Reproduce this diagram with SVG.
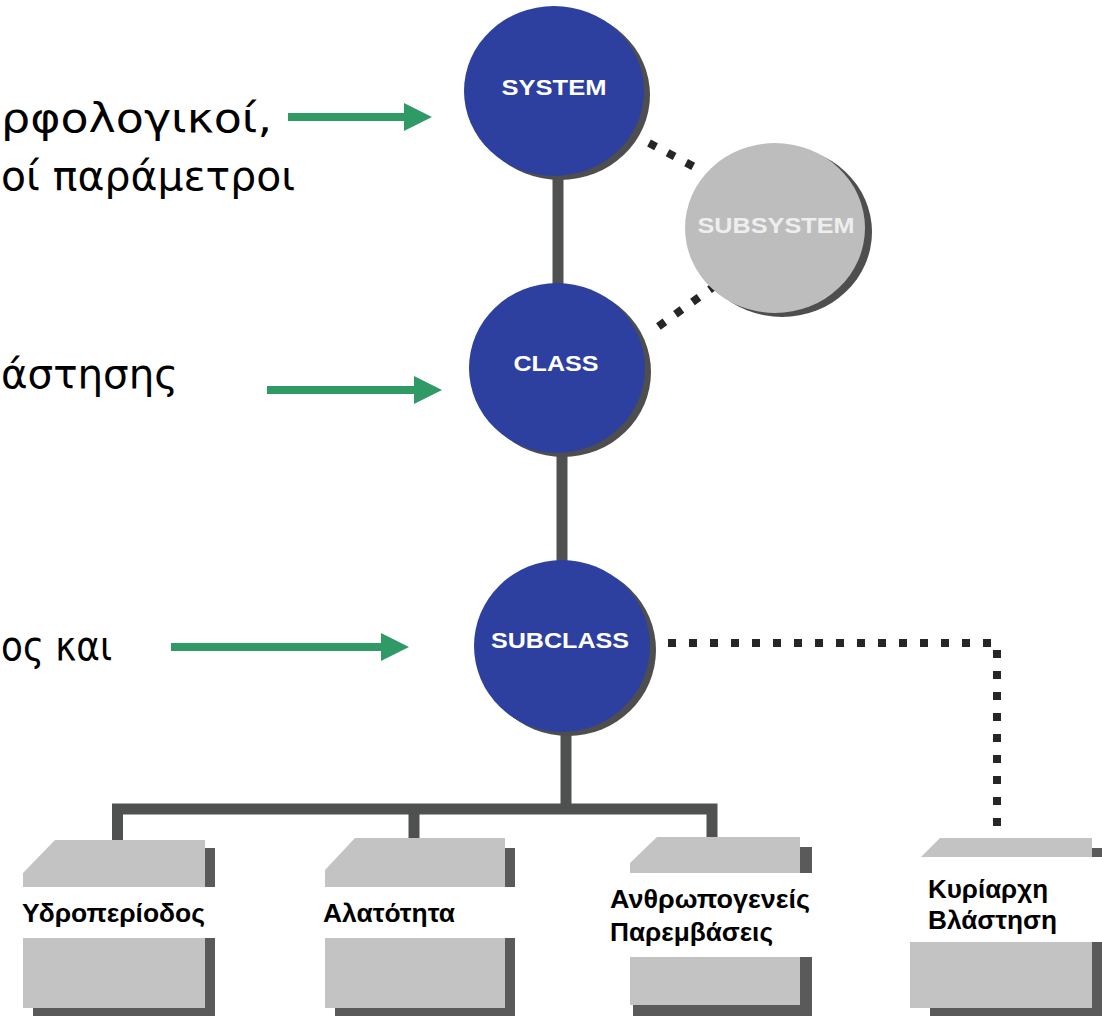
<svg xmlns="http://www.w3.org/2000/svg" width="1102" height="1016" viewBox="0 0 1102 1016">
  <defs>
    <style>
      .side { font-family: "DejaVu Sans", "Liberation Sans", sans-serif; font-size: 40px; fill: #000; }
      .node-label { font-family: "Liberation Sans", Arial, sans-serif; font-weight: bold; font-size: 22px; fill: #fff; text-anchor: middle; }
      .box-label { font-family: "Liberation Sans", Arial, sans-serif; font-weight: bold; font-size: 25px; fill: #000; }
      .blue { fill: #2d40a0; }
      .grey { fill: #bdbdbd; }
      .shadow { fill: #4e4e4e; }
      .stalk { stroke: #4f5050; stroke-width: 11; fill: none; }
      .dots { stroke: #262626; stroke-width: 8; fill: none; stroke-dasharray: 8 13; }
      .arrow { stroke: #2f9a66; stroke-width: 8; fill: none; }
      .boxface { fill: #c3c3c3; }
      .boxshadow { fill: #5a5a5a; }
      .band { fill: #ffffff; }
    </style>
    <marker id="ah" markerWidth="28" markerHeight="28" refX="0" refY="14" orient="auto" markerUnits="userSpaceOnUse">
      <path d="M0,0 L28,14 L0,28 Z" fill="#2f9a66"/>
    </marker>
  </defs>
  <rect width="1102" height="1016" fill="#ffffff"/>

  <!-- side texts -->
  <g id="side-texts">
    <text class="side" x="1" y="132" textLength="271" lengthAdjust="spacingAndGlyphs">ρφολογικοί,</text>
    <text class="side" x="1" y="190" textLength="294" lengthAdjust="spacingAndGlyphs">οί παράμετροι</text>
    <text class="side" x="1" y="388" textLength="177" lengthAdjust="spacingAndGlyphs">άστησης</text>
    <text class="side" x="1" y="660" textLength="111" lengthAdjust="spacingAndGlyphs">ος και</text>
  </g>

  <!-- connectors -->
  <g id="connectors">
    <line class="stalk" x1="558" y1="170" x2="558" y2="290"/>
    <line class="stalk" x1="562" y1="448" x2="562" y2="566"/>
    <line class="stalk" x1="566" y1="728" x2="566" y2="809"/>
    <path class="stalk" d="M117.5,843 V809 H712 V843" stroke-width="9"/>
    <line class="stalk" x1="414" y1="809" x2="414" y2="843" stroke-width="11"/>
    <path class="dots" d="M649,143 L700,170"/>
    <path class="dots" d="M716,285 L655,329"/>
    <path class="dots" d="M668,643 H997 V840"/>
    <line class="arrow" x1="288" y1="117" x2="404" y2="117" marker-end="url(#ah)"/>
    <line class="arrow" x1="267" y1="390" x2="414" y2="390" marker-end="url(#ah)"/>
    <line class="arrow" x1="171" y1="647" x2="381" y2="647" marker-end="url(#ah)"/>
  </g>

  <!-- circle nodes -->
  <g id="node-system">
    <ellipse class="shadow" cx="560" cy="95" rx="90" ry="85"/>
    <ellipse class="blue" cx="554" cy="91" rx="90" ry="85"/>
    <text class="node-label" x="554" y="95" textLength="105" lengthAdjust="spacingAndGlyphs">SYSTEM</text>
  </g>
  <g id="node-subsystem">
    <ellipse class="shadow" cx="782" cy="232" rx="90" ry="85"/>
    <ellipse class="grey" cx="775" cy="228" rx="90" ry="85"/>
    <text class="node-label" x="776" y="233" font-size="21" style="fill:#eeeeee" textLength="157" lengthAdjust="spacingAndGlyphs">SUBSYSTEM</text>
  </g>
  <g id="node-class">
    <ellipse class="shadow" cx="563" cy="372" rx="88" ry="85"/>
    <ellipse class="blue" cx="557" cy="368" rx="88" ry="85"/>
    <text class="node-label" x="556" y="371" textLength="85" lengthAdjust="spacingAndGlyphs">CLASS</text>
  </g>
  <g id="node-subclass">
    <ellipse class="shadow" cx="568" cy="650" rx="88" ry="86"/>
    <ellipse class="blue" cx="562" cy="646" rx="88" ry="86"/>
    <text class="node-label" x="560" y="648" textLength="138" lengthAdjust="spacingAndGlyphs">SUBCLASS</text>
  </g>

  <!-- box nodes -->
  <g id="node-hydroperiod">
    <rect class="boxshadow" x="205" y="848" width="10" height="168"/>
    <rect class="boxshadow" x="33" y="1008" width="182" height="8"/>
    <polygon class="boxface" points="23,873 55,840 205,840 205,1008 23,1008"/>
    <rect class="band" x="0" y="887" width="227" height="51"/>
    <text class="box-label" x="22" y="922" textLength="183" lengthAdjust="spacingAndGlyphs">Υδροπερίοδος</text>
  </g>
  <g id="node-salinity">
    <rect class="boxshadow" x="505" y="848" width="10" height="168"/>
    <rect class="boxshadow" x="335" y="1008" width="180" height="8"/>
    <polygon class="boxface" points="325,870 355,838 505,838 505,1008 325,1008"/>
    <rect class="band" x="302" y="887" width="228" height="51"/>
    <text class="box-label" x="323" y="922" textLength="132" lengthAdjust="spacingAndGlyphs">Αλατότητα</text>
  </g>
  <g id="node-human">
    <rect class="boxshadow" x="800" y="847" width="12" height="169"/>
    <rect class="boxshadow" x="633" y="1005" width="179" height="11"/>
    <polygon class="boxface" points="630,863 657,837 800,837 800,1005 630,1005"/>
    <rect class="band" x="592" y="873" width="240" height="84"/>
    <text class="box-label" x="610" y="908" textLength="200" lengthAdjust="spacingAndGlyphs">Ανθρωπογενείς</text>
    <text class="box-label" x="610" y="941" textLength="163" lengthAdjust="spacingAndGlyphs">Παρεμβάσεις</text>
  </g>
  <g id="node-vegetation">
    <rect class="boxshadow" x="1092" y="848" width="10" height="168"/>
    <rect class="boxshadow" x="930" y="1008" width="172" height="8"/>
    <polygon class="boxface" points="910,868 940,838 1092,838 1092,1008 910,1008"/>
    <rect class="band" x="907" y="857" width="195" height="85"/>
    <text class="box-label" x="928" y="898" textLength="120" lengthAdjust="spacingAndGlyphs">Κυρίαρχη</text>
    <text class="box-label" x="928" y="929" textLength="129" lengthAdjust="spacingAndGlyphs">Βλάστηση</text>
  </g>
</svg>
